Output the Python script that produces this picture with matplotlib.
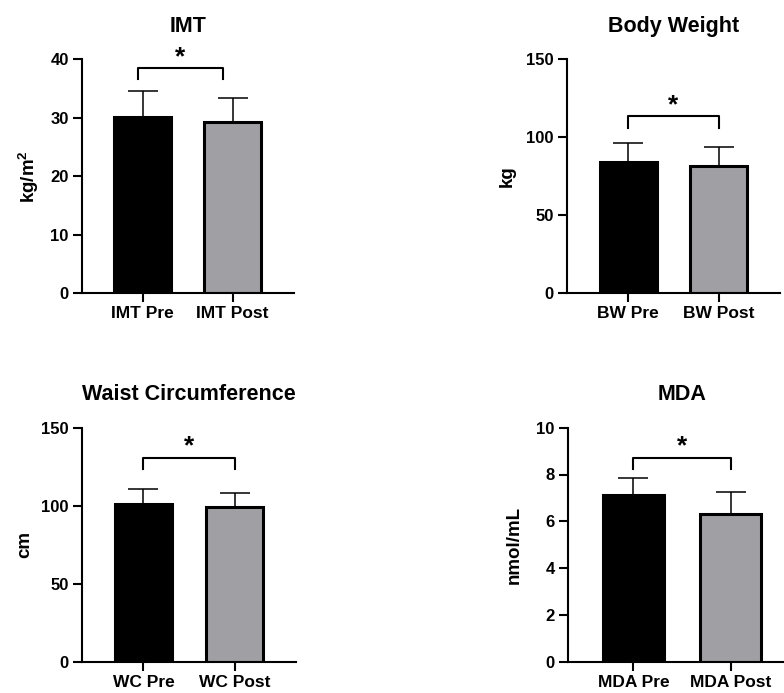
import numpy as np
import matplotlib
matplotlib.use("Agg")
import matplotlib.pyplot as plt

plt.rcParams['font.family'] = ['Liberation Sans', 'DejaVu Sans']
plt.rcParams['font.weight'] = 'bold'
plt.rcParams['axes.labelweight'] = 'bold'
plt.rcParams['axes.titleweight'] = 'bold'
plt.rcParams['mathtext.fontset'] = 'custom'
plt.rcParams['mathtext.rm'] = 'Liberation Sans:bold'
plt.rcParams['mathtext.default'] = 'rm'

# data (mean, upper SD)
titles = ['IMT', 'Body Weight', 'Waist Circumference', 'MDA']
ylabels = ['kg/m$^{2}$', 'kg', 'cm', 'nmol/mL']
xlabels = [['IMT Pre', 'IMT Post'], ['BW Pre', 'BW Post'],
           ['WC Pre', 'WC Post'], ['MDA Pre', 'MDA Post']]
means = [[30.2, 29.3], [84.0, 81.8], [101.1, 99.4], [7.14, 6.31]]
sds = [[4.3, 4.1], [12.5, 11.8], [9.4, 8.9], [0.70, 0.94]]
yticks = [[0, 10, 20, 30, 40], [0, 50, 100, 150], [0, 50, 100, 150],
          [0, 2, 4, 6, 8, 10]]
# significance bracket: (x start, x end, leg bottom, top)
brackets = [(-0.055, 0.89, 36.6, 38.5), (0.0, 1.0, 106.2, 113.6),
            (0.0, 1.0, 123.5, 130.8), (0.0, 1.0, 8.23, 8.72)]

bar_colors = ['#000000', '#a0a0a4']

W, H = 784, 693
fig = plt.figure(figsize=(W / 100, H / 100), dpi=100)

# axes boxes in pixels: left, right, top, bottom
boxes = [(82, 293.5, 59.3, 293.3), (567, 779.7, 59.3, 293.3),
         (82, 296, 427.7, 661.7), (568, 796, 427.7, 661.7)]
label_px = [41, 51, 49, 45]

for i in range(4):
    l, r, t, b = boxes[i]
    ax = fig.add_axes([l / W, 1 - b / H, (r - l) / W, (b - t) / H])
    x = np.arange(2)
    ax.errorbar(x, means[i], yerr=[np.zeros(2), sds[i]], fmt='none',
                ecolor='black', elinewidth=1.1, capsize=11, capthick=1.1,
                zorder=1)
    ax.bar(x, means[i], width=0.63, color=bar_colors, edgecolor='black',
           linewidth=2.2, zorder=2)
    x0, x1, yl, yt = brackets[i]
    ax.plot([x0, x0, x1, x1], [yl, yt, yt, yl], color='black', lw=1.5,
            clip_on=False, zorder=3)
    ax.annotate('*', xy=((x0 + x1) / 2, yt), xytext=(0, 3),
                textcoords='offset points', ha='center', va='baseline',
                fontsize=19, fontweight='bold')

    ax.set_xlim(-0.675, 1.675)
    ax.set_ylim(0, yticks[i][-1])
    ax.set_yticks(yticks[i])
    ax.set_xticks(x)
    ax.set_xticklabels(xlabels[i], fontsize=12.5)
    ax.tick_params(axis='y', labelsize=12)
    ax.tick_params(direction='out', length=6.5, width=1.5, pad=3)
    for s in ['top', 'right']:
        ax.spines[s].set_visible(False)
    for s in ['left', 'bottom']:
        ax.spines[s].set_linewidth(1.5)
    ax.set_title(titles[i], fontsize=15.5, pad=20)
    ax.set_ylabel(ylabels[i], fontsize=13.5)
    ax.yaxis.set_label_coords(-label_px[i] / (r - l), 0.5)

fig.savefig('out.png', dpi=100)
